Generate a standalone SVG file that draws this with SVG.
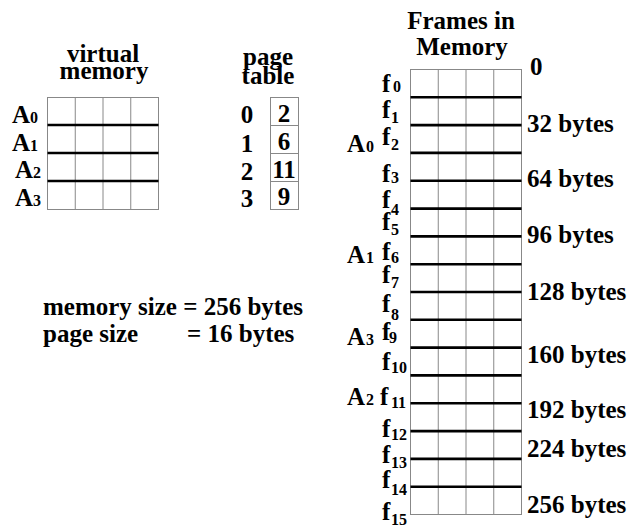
<svg xmlns="http://www.w3.org/2000/svg" width="631" height="527" viewBox="0 0 631 527">
<style>
text{font-family:"Liberation Serif","Times New Roman",serif;font-weight:bold;fill:#000}
.t{font-size:25px}
.s{font-size:16px}
.c{text-anchor:middle}
.g{stroke:#888;stroke-width:1;fill:none}
.k{stroke:#000;stroke-width:2.6}
</style>
<rect width="631" height="527" fill="#fff"/>
<g id="virtual-memory">
<text class="t c" x="103" y="62">virtual</text>
<text class="t c" x="104" y="79">memory</text>
<rect class="g" x="47.5" y="97.5" width="111" height="112"/>
<path class="g" d="M75.25 97.5V209.5M103 97.5V209.5M130.75 97.5V209.5"/>
<path class="k" d="M47.5 125H158.5M47.5 153H158.5M47.5 181H158.5"/>
<text class="t" x="12" y="123">A</text><text class="s" x="30" y="123">0</text>
<text class="t" x="12" y="151">A</text><text class="s" x="30" y="151">1</text>
<text class="t" x="15" y="178">A</text><text class="s" x="33" y="178">2</text>
<text class="t" x="15" y="206">A</text><text class="s" x="33" y="206">3</text>
</g>
<g id="page-table">
<text class="t c" x="268" y="65">page</text>
<text class="t c" x="268" y="84">table</text>
<rect class="g" x="270.5" y="97.5" width="28" height="112"/>
<path class="g" d="M270.5 125.5H298.5M270.5 153.5H298.5M270.5 181.5H298.5"/>
<text class="t c" x="247" y="123">0</text>
<text class="t c" x="247" y="152">1</text>
<text class="t c" x="247" y="180">2</text>
<text class="t c" x="247" y="207">3</text>
<text class="t c" x="284" y="122">2</text>
<text class="t c" x="284" y="150">6</text>
<text class="t c" x="284" y="178">11</text>
<text class="t c" x="284" y="205">9</text>
</g>
<g id="frames">
<text class="t c" x="461" y="29">Frames in</text>
<text class="t c" x="462" y="55">Memory</text>
<rect class="g" x="410.5" y="69.5" width="111" height="445"/>
<path class="g" d="M438.25 69.5V514.5M466 69.5V514.5M493.75 69.5V514.5"/>
<path class="k" d="M410.5 97.3H521.5M410.5 125.1H521.5M410.5 152.9H521.5M410.5 180.8H521.5M410.5 208.6H521.5M410.5 236.4H521.5M410.5 264.2H521.5M410.5 292H521.5M410.5 319.8H521.5M410.5 347.6H521.5M410.5 375.4H521.5M410.5 403.2H521.5M410.5 431.1H521.5M410.5 458.9H521.5M410.5 486.7H521.5"/>
<text class="t" x="382" y="92">f</text><text class="s" x="393" y="92">0</text>
<text class="t" x="382" y="118">f</text><text class="s" x="391" y="123">1</text>
<text class="t" x="382" y="145">f</text><text class="s" x="391" y="150">2</text>
<text class="t" x="382" y="182">f</text><text class="s" x="391" y="183">3</text>
<text class="t" x="382" y="208">f</text><text class="s" x="391" y="215">4</text>
<text class="t" x="382" y="230">f</text><text class="s" x="391" y="235">5</text>
<text class="t" x="382" y="260">f</text><text class="s" x="391" y="263">6</text>
<text class="t" x="382" y="283">f</text><text class="s" x="391" y="288">7</text>
<text class="t" x="382" y="312">f</text><text class="s" x="391" y="320">8</text>
<text class="t" x="382" y="340">f</text><text class="s" x="389" y="343">9</text>
<text class="t" x="382" y="370">f</text><text class="s" x="391" y="373">10</text>
<text class="t" x="380" y="405">f</text><text class="s" x="391" y="408">11</text>
<text class="t" x="382" y="437">f</text><text class="s" x="391" y="440">12</text>
<text class="t" x="382" y="463">f</text><text class="s" x="391" y="468">13</text>
<text class="t" x="382" y="488">f</text><text class="s" x="391" y="495">14</text>
<text class="t" x="382" y="520">f</text><text class="s" x="391" y="525">15</text>
<text class="t" x="347" y="152">A</text><text class="s" x="366" y="152">0</text>
<text class="t" x="347" y="263">A</text><text class="s" x="366" y="263">1</text>
<text class="t" x="347" y="345">A</text><text class="s" x="366" y="345">3</text>
<text class="t" x="347" y="405">A</text><text class="s" x="366" y="405">2</text>
</g>
<g id="addresses">
<text class="t" x="530" y="75">0</text>
<text class="t" x="527" y="132">32 bytes</text>
<text class="t" x="527" y="187">64 bytes</text>
<text class="t" x="527" y="243">96 bytes</text>
<text class="t" x="527" y="300">128 bytes</text>
<text class="t" x="527" y="363">160 bytes</text>
<text class="t" x="527" y="418">192 bytes</text>
<text class="t" x="527" y="457">224 bytes</text>
<text class="t" x="527" y="513">256 bytes</text>
</g>
<g id="sizes">
<text class="t" x="43" y="315">memory size = 256 bytes</text>
<text class="t" x="43" y="342">page size</text>
<text class="t" x="187" y="342">= 16 bytes</text>
</g>
</svg>
